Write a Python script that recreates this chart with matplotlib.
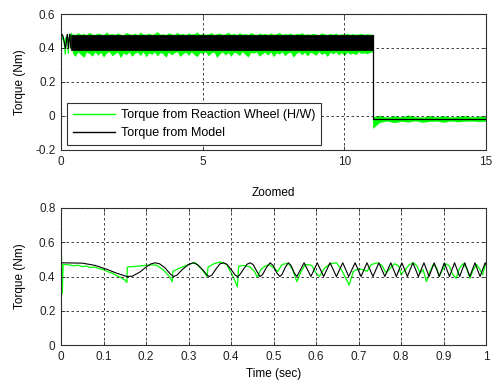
import matplotlib
matplotlib.use("Agg")
import matplotlib.pyplot as plt
from matplotlib.lines import Line2D

plt.rcParams['font.family'] = ['Liberation Sans', 'DejaVu Sans']

# ---------------- data ----------------
# Zoomed window (first second): model response (black)
model_t = [0.0, 0.05, 0.08, 0.11, 0.13, 0.155, 0.168, 0.185, 0.200, 0.212, 0.222,
           0.232, 0.245, 0.257, 0.265, 0.273, 0.285, 0.300, 0.311, 0.321, 0.335,
           0.344, 0.349, 0.355, 0.365, 0.374, 0.382, 0.390, 0.402, 0.410, 0.415,
           0.420, 0.430, 0.438, 0.445, 0.452, 0.462, 0.468, 0.474, 0.484, 0.492,
           0.499, 0.508, 0.515, 0.520, 0.528, 0.535, 0.541, 0.549, 0.555, 0.572,
           0.588, 0.603, 0.618, 0.633, 0.648, 0.663, 0.677, 0.692, 0.706, 0.72,
           0.734, 0.748, 0.762, 0.776, 0.789, 0.802, 0.815, 0.828, 0.841, 0.854,
           0.866, 0.878, 0.89, 0.902, 0.914, 0.926, 0.938, 0.95, 0.962, 0.974,
           0.986, 0.998, 1.0]
model_v = [0.48, 0.478, 0.465, 0.44, 0.42, 0.400, 0.402, 0.425, 0.455, 0.474, 0.480,
           0.474, 0.450, 0.415, 0.400, 0.408, 0.440, 0.470, 0.480, 0.470, 0.435,
           0.407, 0.400, 0.408, 0.445, 0.474, 0.480, 0.472, 0.435, 0.408, 0.400,
           0.408, 0.445, 0.472, 0.480, 0.470, 0.425, 0.400, 0.410, 0.455, 0.480,
           0.465, 0.420, 0.400, 0.412, 0.455, 0.480, 0.465, 0.420, 0.400, 0.48,
           0.40, 0.48, 0.40, 0.48, 0.40, 0.48, 0.40, 0.48, 0.40, 0.48,
           0.40, 0.48, 0.40, 0.48, 0.40, 0.48, 0.40, 0.48, 0.40, 0.48,
           0.40, 0.48, 0.40, 0.48, 0.40, 0.48, 0.40, 0.48, 0.40, 0.48,
           0.40, 0.48, 0.47]

# Zoomed window: reaction wheel hardware torque (green)
hw_t = [0.0, 0.001, 0.003, 0.005, 0.02, 0.03, 0.04, 0.05, 0.06, 0.07, 0.08, 0.09,
        0.10, 0.11, 0.12, 0.13, 0.14, 0.15, 0.155,
        0.156, 0.17, 0.19, 0.21, 0.225, 0.24, 0.255, 0.262, 0.263, 0.28, 0.30, 0.315,
        0.33, 0.344, 0.346, 0.36, 0.375, 0.39, 0.405, 0.415, 0.418, 0.43, 0.445,
        0.455, 0.462, 0.47, 0.48, 0.49, 0.50, 0.51, 0.52, 0.535, 0.545, 0.555,
        0.565, 0.575, 0.59, 0.60, 0.608, 0.62, 0.635, 0.648, 0.66, 0.668, 0.678,
        0.688, 0.70, 0.71, 0.72, 0.73, 0.745, 0.755, 0.765, 0.775, 0.785, 0.795,
        0.80, 0.81, 0.82, 0.83, 0.838, 0.845, 0.852, 0.86, 0.868, 0.876, 0.884,
        0.89, 0.898, 0.906, 0.914, 0.922, 0.93, 0.938, 0.946, 0.954, 0.962, 0.97,
        0.978, 0.986, 0.992, 1.0]
hw_v = [0.0, 0.52, 0.30, 0.47, 0.468, 0.462, 0.466, 0.458, 0.461, 0.452, 0.455, 0.445,
        0.440, 0.428, 0.420, 0.405, 0.395, 0.380, 0.365,
        0.455, 0.458, 0.462, 0.468, 0.466, 0.44, 0.40, 0.37, 0.43, 0.45, 0.47, 0.482,
        0.445, 0.40, 0.455, 0.475, 0.485, 0.47, 0.40, 0.34, 0.46, 0.465, 0.455,
        0.43, 0.395, 0.44, 0.46, 0.47, 0.45, 0.43, 0.47, 0.478, 0.44, 0.37,
        0.43, 0.47, 0.465, 0.42, 0.40, 0.45, 0.475, 0.48, 0.44, 0.40, 0.35,
        0.43, 0.445, 0.44, 0.43, 0.47, 0.48, 0.465, 0.42, 0.45, 0.475, 0.46,
        0.41, 0.44, 0.47, 0.48, 0.46, 0.42, 0.44, 0.37, 0.43, 0.47, 0.45,
        0.40, 0.44, 0.475, 0.46, 0.41, 0.39, 0.45, 0.475, 0.45, 0.39, 0.44,
        0.47, 0.44, 0.41, 0.48]

# Full run, 0.4 s .. 11 s: envelopes of the fast hardware oscillation (0.1 s spacing)
band_t = [0.4, 0.5, 0.6, 0.7, 0.8, 0.9, 1.0, 1.1, 1.2, 1.3, 1.4, 1.5, 1.6, 1.7, 1.8,
          1.9, 2.0, 2.1, 2.2, 2.3, 2.4, 2.5, 2.6, 2.7, 2.8, 2.9, 3.0, 3.1, 3.2, 3.3,
          3.4, 3.5, 3.6, 3.7, 3.8, 3.9, 4.0, 4.1, 4.2, 4.3, 4.4, 4.5, 4.6, 4.7, 4.8,
          4.9, 5.0, 5.1, 5.2, 5.3, 5.4, 5.5, 5.6, 5.7, 5.8, 5.9, 6.0, 6.1, 6.2, 6.3,
          6.4, 6.5, 6.6, 6.7, 6.8, 6.9, 7.0, 7.1, 7.2, 7.3, 7.4, 7.5, 7.6, 7.7, 7.8,
          7.9, 8.0, 8.1, 8.2, 8.3, 8.4, 8.5, 8.6, 8.7, 8.8, 8.9, 9.0, 9.1, 9.2, 9.3,
          9.4, 9.5, 9.6, 9.7, 9.8, 9.9, 10.0, 10.1, 10.2, 10.3, 10.4, 10.5, 10.6,
          10.7, 10.8, 10.9, 11.0]
hw_band_hi = [0.484, 0.479, 0.490, 0.481, 0.486, 0.478, 0.492, 0.482, 0.480, 0.488,
              0.483, 0.479, 0.494, 0.481, 0.485, 0.480, 0.489, 0.482, 0.478, 0.491,
              0.484, 0.480, 0.487, 0.479, 0.493, 0.482, 0.481, 0.488, 0.480, 0.485,
              0.496, 0.481, 0.484, 0.479, 0.490, 0.483, 0.480, 0.492, 0.481, 0.486,
              0.479, 0.489, 0.482, 0.484, 0.494, 0.480, 0.487, 0.481, 0.483, 0.491,
              0.479, 0.485, 0.488, 0.480, 0.484, 0.493, 0.481, 0.486, 0.479, 0.490,
              0.482, 0.485, 0.480, 0.491, 0.483, 0.479, 0.488, 0.482, 0.486, 0.480,
              0.489, 0.481, 0.484, 0.492, 0.480, 0.485, 0.482, 0.488, 0.479, 0.486,
              0.483, 0.490, 0.480, 0.484, 0.481, 0.487, 0.482, 0.479, 0.489, 0.483,
              0.480, 0.486, 0.481, 0.488, 0.479, 0.484, 0.482, 0.487, 0.480, 0.485,
              0.481, 0.483, 0.486, 0.480, 0.484, 0.482, 0.481]
hw_band_lo = [0.372, 0.350, 0.378, 0.361, 0.345, 0.376, 0.368, 0.352, 0.377, 0.358,
              0.374, 0.347, 0.370, 0.378, 0.355, 0.366, 0.376, 0.343, 0.372, 0.360,
              0.377, 0.351, 0.369, 0.375, 0.356, 0.378, 0.348, 0.371, 0.363, 0.377,
              0.353, 0.374, 0.366, 0.346, 0.376, 0.359, 0.372, 0.378, 0.350, 0.367,
              0.375, 0.357, 0.377, 0.362, 0.349, 0.373, 0.368, 0.378, 0.354, 0.371,
              0.376, 0.345, 0.365, 0.377, 0.359, 0.373, 0.351, 0.376, 0.369, 0.356,
              0.378, 0.363, 0.347, 0.374, 0.370, 0.377, 0.352, 0.366, 0.375, 0.358,
              0.377, 0.349, 0.372, 0.364, 0.378, 0.355, 0.370, 0.376, 0.346, 0.368,
              0.377, 0.360, 0.374, 0.353, 0.376, 0.367, 0.357, 0.378, 0.362, 0.371,
              0.350, 0.375, 0.366, 0.377, 0.359, 0.373, 0.355, 0.376, 0.364, 0.370,
              0.361, 0.377, 0.368, 0.372, 0.366, 0.374, 0.378]
# model oscillation is too fast to resolve: a solid band
model_band_t = [0.35, 11.0]
model_band_hi = [0.476, 0.476]
model_band_lo = [0.390, 0.390]

# After the wheel is switched off (11 s .. 15 s)
post_t = [11.0, 11.25, 11.5, 11.75, 12.0, 12.25, 12.5, 12.75, 13.0, 13.25, 13.5,
          13.75, 14.0, 14.25, 14.5, 14.75, 15.0]
hw_post_hi = [-0.005, 0.003, -0.008, 0.000, -0.006, 0.004, -0.004, -0.008, 0.002,
              -0.006, 0.001, -0.007, -0.003, 0.002, -0.006, -0.002, -0.004]
hw_post_lo = [-0.070, -0.036, -0.028, -0.038, -0.030, -0.034, -0.027, -0.036, -0.031,
              -0.029, -0.035, -0.028, -0.033, -0.030, -0.028, -0.032, -0.030]
model_post_t = [11.0, 11.0, 15.0]
model_post_v = [0.476, -0.02, -0.02]

GREEN = '#00ff00'

# ---------------- figure ----------------
fig = plt.figure(figsize=(4.94, 3.82), dpi=100)
ax1 = fig.add_axes([61 / 494, 1 - 150 / 382, 425 / 494, 136 / 382])
ax2 = fig.add_axes([61 / 494, 1 - 345 / 382, 425 / 494, 137 / 382])

FS = 8.5


def style(ax):
    for s in ax.spines.values():
        s.set_color('#333333')
        s.set_linewidth(0.8)
    ax.tick_params(direction='in', length=3, width=0.6, top=True, right=True,
                   labelsize=FS, pad=4, colors='#333333', labelcolor='#222222')
    ax.grid(True, color='#222222', linestyle=(0, (3, 3)), linewidth=0.6)
    ax.set_axisbelow(False)


# top panel: start of the run uses the zoomed traces, then the envelopes
hw_start = [(t, v) for t, v in zip(hw_t, hw_v) if t <= 0.4]
model_start = [(t, v) for t, v in zip(model_t, model_v) if t <= 0.35]
ax1.fill_between(band_t, hw_band_lo, hw_band_hi, color=GREEN, linewidth=0, zorder=2)
ax1.plot([p[0] for p in hw_start], [p[1] for p in hw_start], color=GREEN,
         linewidth=0.9, zorder=2)
ax1.fill_between(post_t, hw_post_lo, hw_post_hi, color=GREEN, linewidth=0.3, zorder=2)
ax1.plot([p[0] for p in model_start], [p[1] for p in model_start], color='black',
         linewidth=0.8, zorder=3)
ax1.fill_between(model_band_t, model_band_lo, model_band_hi, color='black',
                 linewidth=0.5, zorder=3)
ax1.plot(model_post_t, model_post_v, color='black', linewidth=0.9, zorder=3)
ax1.set_xlim(0, 15)
ax1.set_ylim(-0.2, 0.6)
ax1.set_xticks([0, 5, 10, 15])
ax1.set_xticklabels(['0', '5', '10', '15'])
ax1.set_yticks([-0.2, 0, 0.2, 0.4, 0.6])
ax1.set_yticklabels(['-0.2', '0', '0.2', '0.4', '0.6'])
ax1.set_ylabel('Torque (Nm)', fontsize=FS)
ax1.yaxis.set_label_coords(-0.082, 0.5)
style(ax1)

handles = [Line2D([], [], color=GREEN, linewidth=1.0),
           Line2D([], [], color='black', linewidth=1.0)]
leg = ax1.legend(handles, ['Torque from Reaction Wheel (H/W)', 'Torque from Model'],
                 loc='lower left', bbox_to_anchor=(0.014, 0.037), borderaxespad=0,
                 fontsize=9, frameon=True, fancybox=False, handlelength=3.4,
                 handletextpad=0.45, labelspacing=0.5, borderpad=0.45)
leg.get_frame().set_edgecolor('#333333')
leg.get_frame().set_linewidth(0.8)
leg.get_frame().set_alpha(1)
leg.set_zorder(10)

# bottom panel
ax2.plot(hw_t, hw_v, color=GREEN, linewidth=0.9, zorder=2)
ax2.plot(model_t, model_v, color='black', linewidth=0.8, zorder=3)
ax2.set_xlim(0, 1)
ax2.set_ylim(0, 0.8)
xt = [0, 0.1, 0.2, 0.3, 0.4, 0.5, 0.6, 0.7, 0.8, 0.9, 1.0]
ax2.set_xticks(xt)
ax2.set_xticklabels(['0', '0.1', '0.2', '0.3', '0.4', '0.5', '0.6', '0.7', '0.8', '0.9', '1'])
ax2.set_yticks([0, 0.2, 0.4, 0.6, 0.8])
ax2.set_yticklabels(['0', '0.2', '0.4', '0.6', '0.8'])
ax2.set_ylabel('Torque (Nm)', fontsize=FS)
ax2.yaxis.set_label_coords(-0.082, 0.5)
ax2.set_xlabel('Time (sec)', fontsize=FS)
ax2.xaxis.set_label_coords(0.5, -0.168)
ax2.text(0.5, 1 + 15 / 137, 'Zoomed', transform=ax2.transAxes, ha='center',
         va='center', fontsize=FS)
style(ax2)

fig.savefig('out.png', dpi=100, facecolor='white')
